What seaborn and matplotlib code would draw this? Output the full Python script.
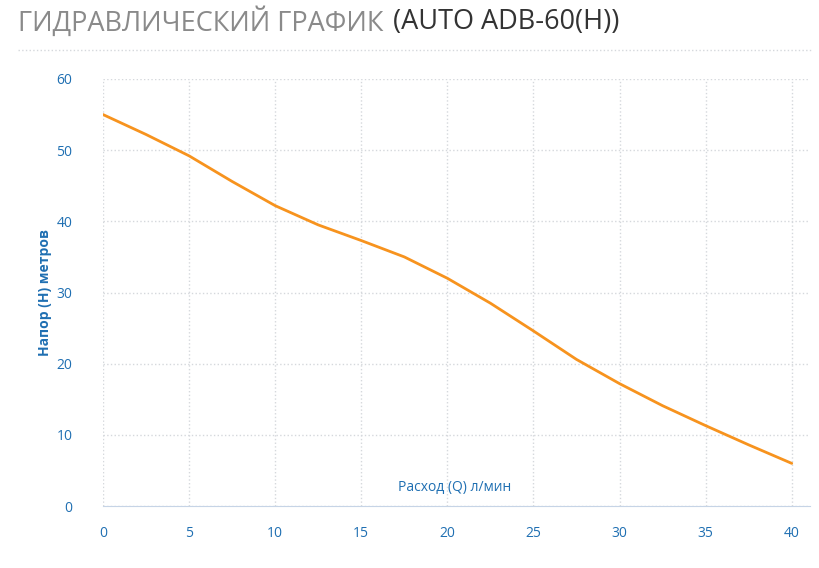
import numpy as np
import pandas as pd
import seaborn as sns
from matplotlib import pyplot as plt

flow = [0, 2.5, 5, 7.5, 10, 12.5, 15, 17.5, 20, 22.5, 25, 27.5, 30, 32.5, 35, 37.5, 40]
head = [55, 52.2, 49.2, 45.6, 42.2, 39.5, 37.3, 35.0, 32.0, 28.5, 24.6, 20.6, 17.2, 14.1, 11.3, 8.6, 6.0]
xticks = [0, 5, 10, 15, 20, 25, 30, 35, 40]
yticks = [0, 10, 20, 30, 40, 50, 60]

sns.set_style('white')
plt.rcParams['font.family'] = ['Open Sans', 'DejaVu Sans']
blue = '#1f6fb2'

df = pd.DataFrame({'Q': flow, 'H': head})
fig = plt.figure(figsize=(8.2, 5.68), dpi=100)
ax = fig.add_axes([0.1256, 0.109, 0.862, 0.752])
sns.lineplot(data=df, x='Q', y='H', color='#f7931e', linewidth=2, ax=ax)

ax.set_xlim(0, 41.05)
ax.set_ylim(0, 60)
ax.set_xticks(xticks)
ax.set_yticks(yticks)
ax.grid(True, linestyle=':', color='#d5d8dc', linewidth=1)
for s in ['top', 'right', 'left']:
    ax.spines[s].set_visible(False)
ax.spines['bottom'].set_color('#c6d4e6')
ax.tick_params(axis='x', colors='#c6d4e6', labelcolor=blue, labelsize=10, length=6, pad=8)
ax.tick_params(axis='y', length=0, labelcolor=blue, labelsize=10, pad=22)
ax.set_xlabel('')
ax.set_ylabel('Напор (H) метров', color=blue, fontsize=10, fontweight='bold', labelpad=3)
ax.text(20.4, 1.5, 'Расход (Q) л/мин', color=blue, fontsize=10, ha='center', va='bottom')

fig.text(0.022, 0.961, 'ГИДРАВЛИЧЕСКИЙ ГРАФИК', color='#8a8a8a', fontsize=19.5, va='center')
fig.text(0.479, 0.961, '(AUTO ADB-60(H))', color='#333333', fontsize=19.5, va='center')
fig.add_artist(plt.Line2D([0.022, 0.99], [0.912, 0.912], color='#d5d8dc', linestyle=':', linewidth=1))

plt.savefig('out.png', dpi=100)
